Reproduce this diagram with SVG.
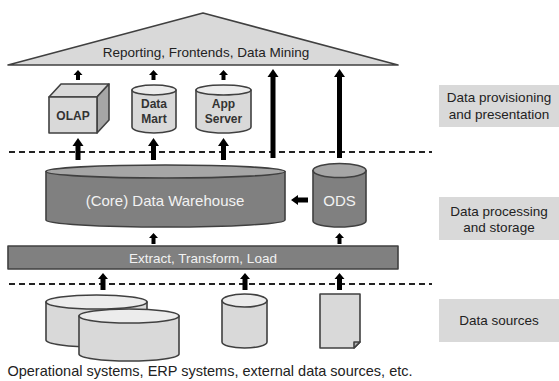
<svg xmlns="http://www.w3.org/2000/svg" width="559" height="381" viewBox="0 0 559 381">
<style>
.t{font-family:"Liberation Sans",Arial,sans-serif;text-anchor:middle}
.lt{font-size:13.5px;fill:#222}
.bl{font-size:14.5px;fill:#222}
.wt{font-size:15px;fill:#f2f2f2}
.et{font-size:13.5px;fill:#f2f2f2}
.bt{font-size:12px;font-weight:bold;fill:#333}
.sh{stroke:#404040;stroke-width:1.6;stroke-linejoin:round}
.lg{fill:#d9d9d9}
.lgt{fill:#ececec}
.dg{fill:#808080}
.dgt{fill:#a6a6a6}
.dash{stroke:#222;stroke-width:1.8;stroke-dasharray:6 4;fill:none}
.ar{fill:#000}
.lab{fill:#d9d9d9}
</style>
<rect width="559" height="381" fill="#fff"/>

<g id="layer-lines">
<line class="dash" x1="9" y1="152" x2="432" y2="152"/>
<line class="dash" x1="9" y1="284" x2="432" y2="284"/>
</g>

<g id="reporting">
<polygon class="sh lg" points="203,13 398,65 8,65"/>
<text class="t lt" x="206" y="57">Reporting, Frontends, Data Mining</text>
</g>

<g id="olap">
<polygon class="sh lg" points="49,97 61,84 109,84 97,97"/>
<polygon class="sh" fill="#a6a6a6" points="97,97 109,84 109,120 97,133"/>
<rect class="sh lg" x="49" y="97" width="48" height="36"/>
<text class="t bt" x="73" y="120">OLAP</text>
</g>

<g id="datamart">
<path class="sh lg" d="M132,90 L132,127 A22,6 0 0 0 176,127 L176,90 Z"/>
<ellipse class="sh lgt" cx="154" cy="90" rx="22" ry="5"/>
<text class="t bt" x="154" y="108">Data</text>
<text class="t bt" x="154" y="123">Mart</text>
</g>

<g id="appserver">
<path class="sh lg" d="M196,90 L196,127 A27.5,6 0 0 0 251,127 L251,90 Z"/>
<ellipse class="sh lgt" cx="223.5" cy="90" rx="27.5" ry="5"/>
<text class="t bt" x="223.5" y="108">App</text>
<text class="t bt" x="223.5" y="123">Server</text>
</g>

<g id="dwh">
<path class="sh dg" d="M46,171.5 L46,220 A119.5,7 0 0 0 285,220 L285,171.5 Z"/>
<ellipse class="sh dgt" cx="165.5" cy="171.5" rx="119.5" ry="6.5"/>
<text class="t wt" x="165" y="206">(Core) Data Warehouse</text>
</g>

<g id="ods">
<path class="sh dg" d="M313,170.5 L313,221 A26.5,6 0 0 0 366,221 L366,170.5 Z"/>
<ellipse class="sh dgt" cx="339.5" cy="170.5" rx="26.5" ry="7"/>
<text class="t wt" x="339.5" y="206">ODS</text>
</g>

<g id="etl">
<rect class="sh dg" x="8" y="246" width="390" height="23"/>
<text class="t et" x="203" y="262.5">Extract, Transform, Load</text>
</g>

<g id="sources-db">
<path class="sh lg" d="M46,302 L46,340 A50.5,7 0 0 0 147,340 L147,302 Z"/>
<ellipse class="sh lgt" cx="96.5" cy="302" rx="50.5" ry="7"/>
<path class="sh lg" d="M79,316 L79,354 A50,7 0 0 0 179,354 L179,316 Z"/>
<ellipse class="sh lgt" cx="129" cy="316" rx="50" ry="7"/>
</g>

<g id="source-db2">
<path class="sh lg" d="M222,300.5 L222,342 A22.5,6 0 0 0 267,342 L267,300.5 Z"/>
<ellipse class="sh lgt" cx="244.5" cy="300.5" rx="22.5" ry="6.5"/>
</g>

<g id="source-doc">
<path class="sh lg" d="M320,294 L360,294 L360,342 L354,348 L320,348 Z"/>
<path class="sh" fill="#b0b0b0" d="M360,342 L354,342 L354,348 Z"/>
</g>

<g id="sources-label">
<text class="t bl" x="210" y="376">Operational systems, ERP systems, external data sources, etc.</text>
</g>

<g id="label-provisioning">
<rect class="lab" x="439" y="85" width="120" height="42"/>
<text class="t lt" x="499" y="102">Data provisioning</text>
<text class="t lt" x="499" y="119">and presentation</text>
</g>
<g id="label-processing">
<rect class="lab" x="439" y="197" width="120" height="43"/>
<text class="t lt" x="499" y="216">Data processing</text>
<text class="t lt" x="499" y="232">and storage</text>
</g>
<g id="label-sources">
<rect class="lab" x="439" y="299" width="120" height="43"/>
<text class="t lt" x="499" y="325">Data sources</text>
</g>

<g id="connectors">
<polygon class="ar" points="78,70 82.5,75 80,75 80,80 76,80 76,75 73.5,75"/>
<polygon class="ar" points="153.5,70 158,75 155.5,75 155.5,80 151.5,80 151.5,75 149,75"/>
<polygon class="ar" points="223.5,70 228,75 225.5,75 225.5,80 221.5,80 221.5,75 219,75"/>
<polygon class="ar" points="273,69 278.5,77 275.5,77 275.5,158 270.5,158 270.5,77 267.5,77"/>
<polygon class="ar" points="339.5,69 345,77 342,77 342,158 337,158 337,77 334,77"/>
<polygon class="ar" points="78,138 83.5,146 80.5,146 80.5,160 75.5,160 75.5,146 72.5,146"/>
<polygon class="ar" points="153.5,138 159,146 156,146 156,160 151,160 151,146 148,146"/>
<polygon class="ar" points="223.5,138 229,146 226,146 226,160 221,160 221,146 218,146"/>
<polygon class="ar" points="291,200 298,195 298,197.5 308,197.5 308,202.5 298,202.5 298,205"/>
<polygon class="ar" points="153.5,233 158,238 155.5,238 155.5,244 151.5,244 151.5,238 149,238"/>
<polygon class="ar" points="339.5,233 344,238 341.5,238 341.5,244 337.5,244 337.5,238 335,238"/>
<polygon class="ar" points="103,273 108,279 105.5,279 105.5,290 100.5,290 100.5,279 98,279"/>
<polygon class="ar" points="245,273 250,279 247.5,279 247.5,290 242.5,290 242.5,279 240,279"/>
<polygon class="ar" points="339.5,273 344.5,279 342,279 342,290 337,290 337,279 334.5,279"/>
</g>
</svg>
